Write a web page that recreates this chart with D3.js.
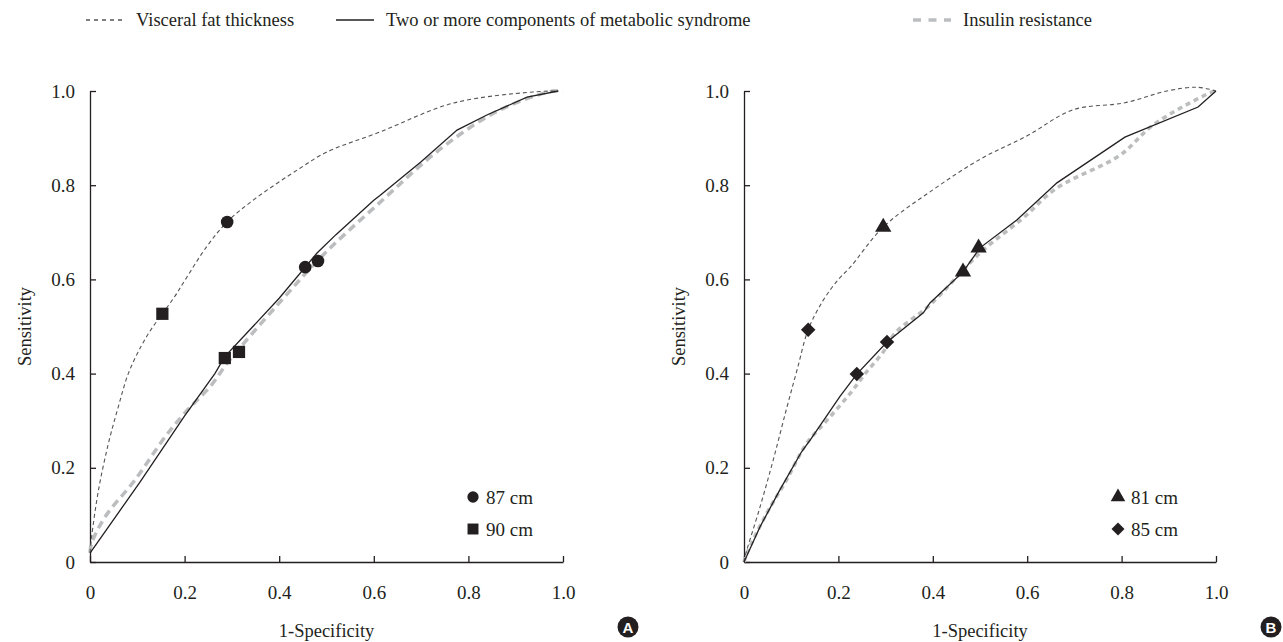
<!DOCTYPE html>
<html>
<head>
<meta charset="utf-8">
<script src="https://cdn.jsdelivr.net/npm/d3@7"></script>
<style>
  body { margin: 0; background: #fff; }
  svg text { font-family: "Liberation Serif", "DejaVu Serif", serif; fill: #231f20; }
</style>
</head>
<body>
<div id="chart"></div>
<script>
// ROC curves, [1-specificity, sensitivity]
const visceralA = [[0,0.02],[0.0035,0.054],[0.018,0.153],[0.039,0.252],[0.06,0.33],[0.081,0.4],[0.108,0.458],[0.13,0.495],[0.153,0.527],[0.18,0.565],[0.2,0.597],[0.247,0.67],[0.29,0.722],[0.35,0.772],[0.444,0.836],[0.5,0.87],[0.613,0.913],[0.767,0.974],[0.937,0.998],[0.99,1.0]];
const metabolicA = [[0,0.019],[0.106,0.17],[0.2,0.31],[0.264,0.4],[0.285,0.436],[0.338,0.493],[0.4,0.56],[0.48,0.656],[0.52,0.695],[0.6,0.768],[0.613,0.778],[0.7,0.85],[0.776,0.917],[0.839,0.949],[0.924,0.987],[0.99,1.0]];
const insulinA = [[0,0.02],[0.0035,0.04],[0.032,0.096],[0.095,0.174],[0.159,0.266],[0.2,0.316],[0.257,0.376],[0.29,0.422],[0.4,0.55],[0.493,0.652],[0.607,0.758],[0.746,0.881],[0.867,0.96],[0.979,1.0],[1.0,1.0]];

const visceralB = [[0,0],[0.002,0.011],[0.034,0.117],[0.062,0.217],[0.09,0.325],[0.113,0.41],[0.136,0.493],[0.168,0.556],[0.2,0.6],[0.225,0.626],[0.295,0.711],[0.4,0.79],[0.5,0.855],[0.6,0.905],[0.697,0.96],[0.807,0.975],[0.896,1.0],[0.96,1.008],[1.0,1.0]];
const metabolicB = [[0,0],[0.034,0.075],[0.076,0.153],[0.122,0.234],[0.143,0.263],[0.203,0.351],[0.239,0.399],[0.303,0.467],[0.38,0.529],[0.394,0.55],[0.464,0.616],[0.5,0.667],[0.578,0.726],[0.663,0.805],[0.807,0.902],[0.962,0.966],[1.0,1.0]];
const insulinB = [[0,0],[0.006,0.018],[0.048,0.103],[0.09,0.174],[0.133,0.252],[0.175,0.3],[0.225,0.358],[0.26,0.404],[0.295,0.446],[0.32,0.486],[0.394,0.546],[0.5,0.656],[0.591,0.73],[0.663,0.794],[0.797,0.864],[0.867,0.928],[0.987,0.996],[1.0,1.0]];

// cut-off points
const cut87 = [[0.29,0.722],[0.455,0.626],[0.482,0.639]];
const cut90 = [[0.153,0.527],[0.285,0.433],[0.315,0.446]];
const cut81 = [[0.295,0.711],[0.464,0.616],[0.497,0.667]];
const cut85 = [[0.136,0.493],[0.239,0.399],[0.303,0.467]];

const ticks = [0, 0.2, 0.4, 0.6, 0.8, 1.0];
const seriesNames = ['Visceral fat thickness', 'Two or more components of metabolic syndrome', 'Insulin resistance'];

const width = 1283, height = 642;
const svg = d3.select('#chart').append('svg').attr('width', width).attr('height', height);

const ink = '#231f20';
const styles = {
  visceral: {stroke: '#555', width: 1.1, dash: '4,3', curve: d3.curveCatmullRom.alpha(0.5)},
  metabolic: {stroke: ink, width: 1.3, dash: null, curve: d3.curveLinear},
  insulin: {stroke: '#bcbdbf', width: 3.5, dash: '8,5', curve: d3.curveCatmullRom.alpha(0.5)}
};

// diamond = square turned 45 degrees
const symbols = {
  circle: {type: d3.symbolCircle, size: 125, rot: 0},
  square: {type: d3.symbolSquare, size: 150, rot: 0},
  triangle: {type: d3.symbolTriangle, size: 115, rot: 0},
  diamond: {type: d3.symbolSquare, size: 105, rot: 45}
};

const panels = [
  {left: 90, right: 563, label: 'A', badgeX: 628, visceral: visceralA, metabolic: metabolicA, insulin: insulinA, insulinDash: '8,5',
   cuts: [{name: '87 cm', pts: cut87, sym: 'circle'}, {name: '90 cm', pts: cut90, sym: 'square'}], legendX: 473},
  {left: 744, right: 1216, label: 'B', badgeX: 1271, visceral: visceralB, metabolic: metabolicB, insulin: insulinB, insulinDash: '5,4',
   cuts: [{name: '81 cm', pts: cut81, sym: 'triangle'}, {name: '85 cm', pts: cut85, sym: 'diamond'}], legendX: 1118}
];

const plotTop = 91, plotBottom = 562;
const fmt = (d) => d === 0 ? '0' : d3.format('.1f')(d);

panels.forEach((p) => {
  const x = d3.scaleLinear().domain([0, 1]).range([p.left, p.right]);
  const y = d3.scaleLinear().domain([0, 1]).range([plotBottom, plotTop]);
  const g = svg.append('g');

  const xAxis = g.append('g').attr('transform', `translate(0,${plotBottom})`)
    .call(d3.axisBottom(x).tickValues(ticks).tickFormat(fmt).tickSizeInner(-6).tickSizeOuter(0).tickPadding(24));
  const yAxis = g.append('g').attr('transform', `translate(${p.left},0)`)
    .call(d3.axisLeft(y).tickValues(ticks).tickFormat(fmt).tickSizeInner(-6).tickSizeOuter(0).tickPadding(15));
  [xAxis, yAxis].forEach((a) => {
    a.selectAll('path, line').attr('stroke', ink).attr('stroke-width', 1.3);
    a.selectAll('text').attr('font-size', 19).attr('fill', ink)
      .style('font-family', '"Liberation Serif", serif');
  });

  g.append('text').attr('x', (p.left + p.right) / 2).attr('y', 637)
    .attr('text-anchor', 'middle').attr('font-size', 18.5).text('1-Specificity');
  g.append('text').attr('transform', `translate(${p.left - 59},${(plotTop + plotBottom) / 2}) rotate(-90)`)
    .attr('text-anchor', 'middle').attr('font-size', 18.5).text('Sensitivity');

  [['insulin', p.insulin], ['visceral', p.visceral], ['metabolic', p.metabolic]].forEach(([key, data]) => {
    const s = styles[key];
    const line = d3.line().x((d) => x(d[0])).y((d) => y(d[1])).curve(s.curve);
    g.append('path').datum(data).attr('d', line).attr('fill', 'none')
      .attr('stroke', s.stroke).attr('stroke-width', s.width)
      .attr('stroke-dasharray', key === 'insulin' ? p.insulinDash : s.dash);
  });

  p.cuts.forEach((c, i) => {
    const sym = symbols[c.sym];
    g.append('g').selectAll('path').data(c.pts).join('path')
      .attr('d', d3.symbol().type(sym.type).size(sym.size)).attr('fill', ink)
      .attr('transform', (d) => `translate(${x(d[0])},${y(d[1])}) rotate(${sym.rot})`);
    const ly = 497 + i * 32;
    g.append('path').attr('d', d3.symbol().type(sym.type).size(sym.size * 0.8))
      .attr('fill', ink).attr('transform', `translate(${p.legendX},${ly}) rotate(${sym.rot})`);
    g.append('text').attr('x', p.legendX + 13).attr('y', ly + 7).attr('font-size', 19).text(c.name);
  });

  const badge = svg.append('g').attr('transform', `translate(${p.badgeX},627)`);
  badge.append('circle').attr('r', 10.5).attr('fill', ink);
  badge.append('text').attr('text-anchor', 'middle').attr('y', 5.5).attr('font-size', 15)
    .attr('font-weight', 'bold').style('font-family', '"Liberation Sans", Arial, sans-serif')
    .style('fill', '#fff').text(p.label);
});

// top legend
const legend = [
  {x: 86, style: styles.visceral, dash: '4,4'},
  {x: 336, style: styles.metabolic, dash: null},
  {x: 913, style: styles.insulin, dash: '8,7.5'}
];
legend.forEach((l, i) => {
  svg.append('line').attr('x1', l.x).attr('x2', l.x + 38).attr('y1', 20).attr('y2', 20)
    .attr('stroke', l.style.stroke).attr('stroke-width', i === 2 ? 3.5 : 1.3)
    .attr('stroke-dasharray', l.dash);
  svg.append('text').attr('x', l.x + 50).attr('y', 26).attr('font-size', 18.5).text(seriesNames[i]);
});
</script>
</body>
</html>
